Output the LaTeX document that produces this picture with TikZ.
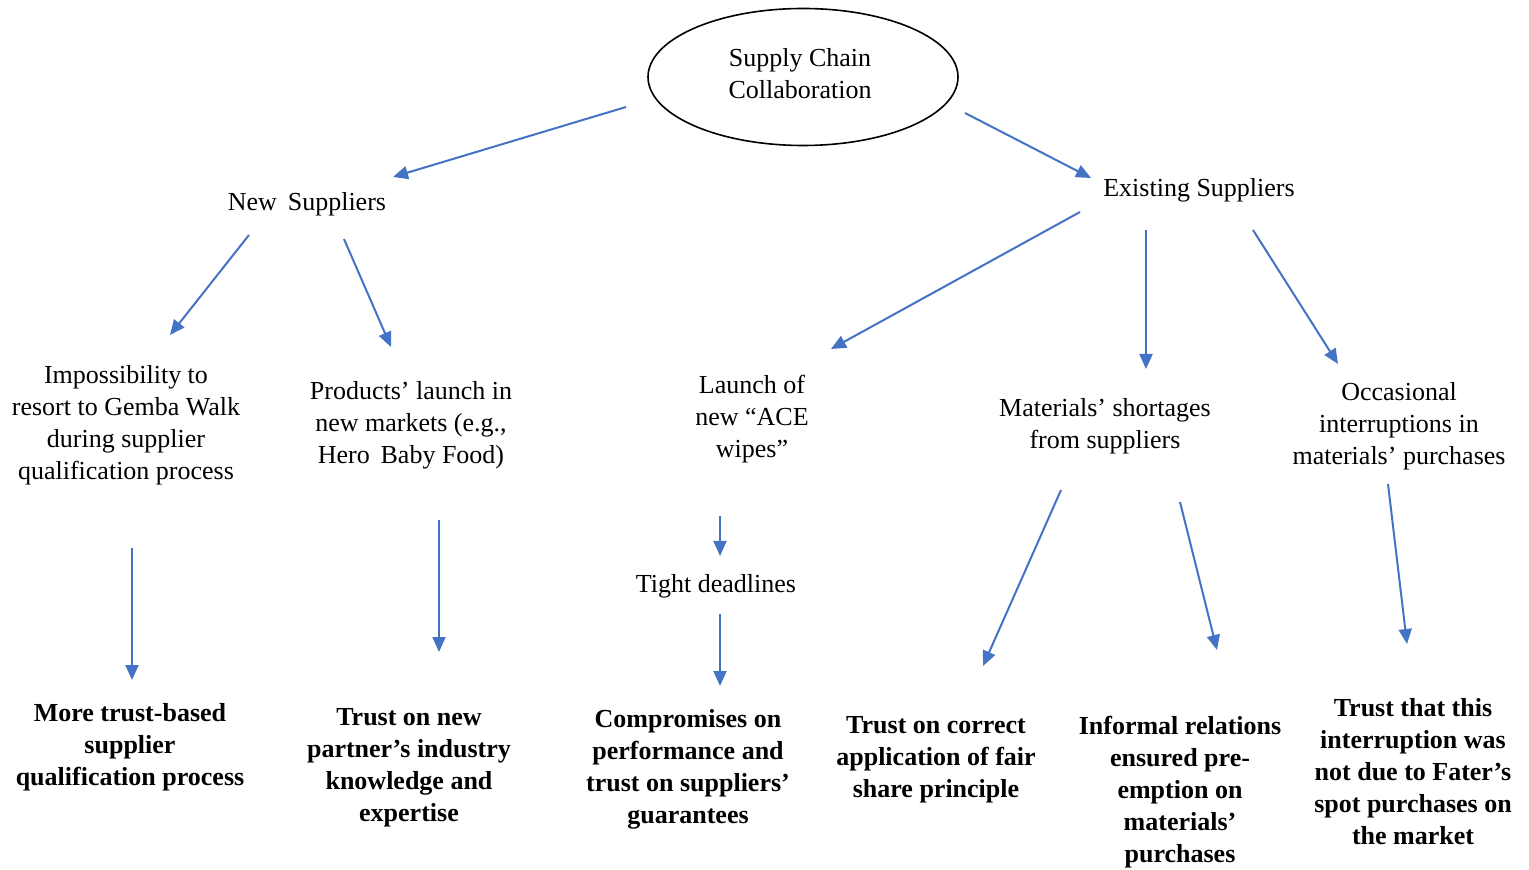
\documentclass[tikz,border=0pt]{standalone}
\usepackage{fontspec}
\setmainfont{Liberation Serif}
\usetikzlibrary{arrows.meta,shapes.geometric,calc}
\begin{document}
\begin{tikzpicture}[x=0.5pt,y=-0.5pt,
  txt/.style={align=center,inner sep=0pt,font=\fontsize{13}{16}\selectfont},
  res/.style={txt,font=\fontsize{13}{16}\selectfont\bfseries},
  arr/.style={draw={rgb,255:red,68;green,114;blue,196},line width=1pt,
    -{Triangle[length=7.5pt,width=6.5pt]}}]
\useasboundingbox (0,0) rectangle (1529,870);
\fill[white] (0,0) rectangle (1529,870);

% root
\node[ellipse,draw,line width=0.8pt,minimum width=155pt,minimum height=68.5pt,
  inner sep=0pt] (root) at (803,77) {};
\node[txt] (roott) at (800,74) {Supply Chain\\Collaboration};

% first level
\node[txt] (ns) at (307,204) {New\, Suppliers};
\node[txt] (es) at (1199,190) {Existing Suppliers};

% second level
\node[txt] (imp) at (126,425.5) {Impossibility to\\resort to Gemba Walk\\during supplier\\qualification process};
\node[txt] (prod) at (411,425) {Products’ launch in\\new markets (e.g.,\\Hero\, Baby Food)};
\node[txt] (launch) at (752,419) {Launch of\\new “ACE\\wipes”};
\node[txt] (mat) at (1105,426) {Materials’ shortages\\from suppliers};
\node[txt] (occ) at (1399,426) {Occasional\\interruptions in\\materials’ purchases};
\node[txt] (tight) at (716,586) {Tight deadlines};

% outcomes
\node[res] (more) at (130,747.5) {More trust-based\\supplier\\qualification process};
\node[res] (tnew) at (409,767.5) {Trust on new\\partner’s industry\\knowledge and\\expertise};
\node[res] (comp) at (688,769.5) {Compromises on\\performance and\\trust on suppliers’\\guarantees};
\node[res] (tcorr) at (936,759.5) {Trust on correct\\application of fair\\share principle};
\node[res] (inf) at (1180,792) {Informal relations\\ensured pre-\\emption on\\materials’\\purchases};
\node[res] (tthat) at (1413,771.5) {Trust that this\\interruption was\\not due to Fater’s\\spot purchases on\\the market};

% connectors
\draw[arr] ($(root)+(-177,30)$) -- ($(ns)+(86,-27)$);
\draw[arr] ($(root)+(162,36)$) -- ($(es)+(-108,-12)$);
\draw[arr] ($(ns)+(-58,31)$) -- ($(imp)+(44,-90.5)$);
\draw[arr] ($(ns)+(37,35)$) -- ($(prod)+(-20,-78)$);
\draw[arr] ($(es)+(-119,22)$) -- ($(launch)+(79,-70)$);
\draw[arr] ($(es)+(-53,40)$) -- ($(mat)+(41,-57)$);
\draw[arr] ($(es)+(54,40)$) -- ($(occ)+(-61,-62)$);
\draw[arr] ($(imp)+(6,122.5)$) -- ($(more)+(2,-67.5)$);
\draw[arr] ($(prod)+(28,95)$) -- ($(tnew)+(30,-115.5)$);
\draw[arr] ($(launch)+(-32,97)$) -- ($(tight)+(4,-30)$);
\draw[arr] ($(tight)+(4,28)$) -- ($(comp)+(32,-83.5)$);
\draw[arr] ($(mat)+(-44,64)$) -- ($(tcorr)+(47,-93.5)$);
\draw[arr] ($(mat)+(75,76)$) -- ($(inf)+(37,-142)$);
\draw[arr] ($(occ)+(-11,58)$) -- ($(tthat)+(-6,-127.5)$);
\end{tikzpicture}
\end{document}
